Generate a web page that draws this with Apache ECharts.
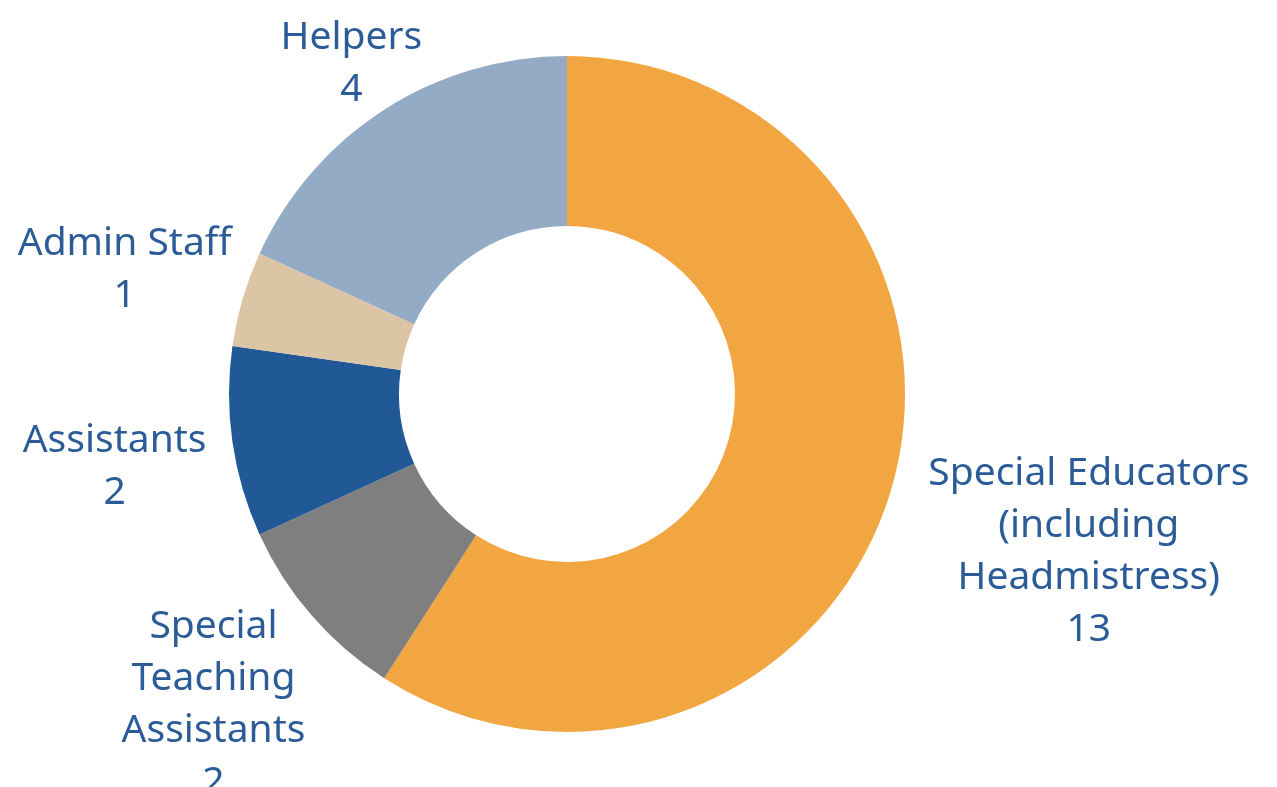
<!DOCTYPE html>
<html>
<head>
<meta charset="utf-8">
<script src="https://cdn.jsdelivr.net/npm/echarts@6/dist/echarts.min.js"></script>
<style>
html,body{margin:0;padding:0;background:#fff;}
#chart{width:1277px;height:787px;}
</style>
</head>
<body>
<div id="chart"></div>
<script>
const categories = ['Special Educators\n(including\nHeadmistress)', 'Special\nTeaching\nAssistants', 'Assistants', 'Admin Staff', 'Helpers'];
const values = [13, 2, 2, 1, 4];
const colors = ['#F2A641', '#7F7F7F', '#215896', '#DCC5A5', '#93ABC4'];

const CX = 567, CY = 394, R_IN = 168, R_OUT = 338, GAP = 14;
// small label nudges (px) to mimic the original label placement
const labelNudge = [[30, 29], [-18, 12], [-13, 15], [-2, -10], [13, 10]];

const total = values.reduce((a, b) => a + b, 0);
const midAngles = [];
let acc = 0;
values.forEach(v => { midAngles.push((acc + v / 2) / total * 2 * Math.PI); acc += v; });

const chart = echarts.init(document.getElementById('chart'), null, {renderer: 'canvas'});
chart.setOption({
  backgroundColor: '#ffffff',
  animation: false,
  series: [{
    type: 'pie',
    center: [CX, CY],
    radius: [R_IN, R_OUT],
    startAngle: 90,
    clockwise: true,
    avoidLabelOverlap: false,
    itemStyle: {borderWidth: 0},
    label: {
      show: true,
      position: 'outside',
      formatter: p => p.name + '\n' + p.value,
      color: '#2B5C98',
      fontFamily: 'Noto Sans',
      fontSize: 39,
      lineHeight: 52,
      align: 'center'
    },
    labelLine: {show: false, length: 10, length2: 0},
    labelLayout: function (params) {
      const i = params.dataIndex;
      const a = midAngles[i];
      const ux = Math.sin(a), uy = -Math.cos(a);
      const w = params.labelRect.width, h = params.labelRect.height;
      const ax = CX + ux * (R_OUT + GAP), ay = CY + uy * (R_OUT + GAP);
      return {
        x: ax + ux * w / 2 + labelNudge[i][0],
        y: ay + uy * h / 2 + labelNudge[i][1],
        align: 'center',
        verticalAlign: 'middle'
      };
    },
    data: categories.map((c, i) => ({name: c, value: values[i], itemStyle: {color: colors[i]}}))
  }]
});
</script>
</body>
</html>
